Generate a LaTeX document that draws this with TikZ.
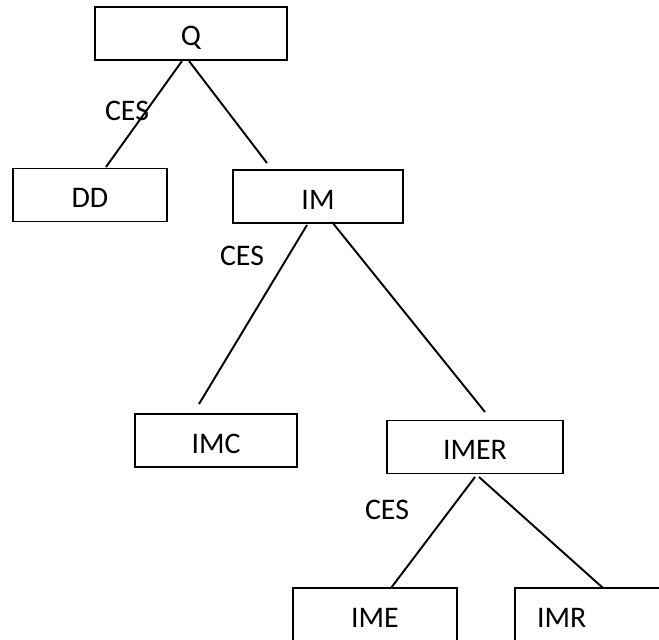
\documentclass[tikz,border=0pt]{standalone}
\usepackage{fontspec}
\setmainfont{Carlito}
\tikzset{
  box/.style={draw, line width=1.1pt, minimum height=1.06cm, text height=0.5cm, text depth=0pt, inner sep=0pt},
  link/.style={line width=1.1pt},
  ces/.style={inner sep=0pt}
}
\begin{document}
\begin{tikzpicture}[x=0.02cm,y=-0.02cm,font=\fontsize{17}{20}\selectfont]
                \useasboundingbox (0,0) rectangle (659,639);

                \node[box, minimum width=3.84cm] at (191,33.5) (q) {Q};
                \node[box, minimum width=3.08cm] at (90,195) (dd) {DD};
                \node[box, minimum width=3.40cm] at (318,196.5) (im) {IM};

                \node[box, minimum width=3.24cm] at (216,440.5) (imc) {IMC};
                \node[box, minimum width=3.52cm] at (475,447) (imer) {IMER};

                \node[box, minimum width=3.28cm] at (375,614.5) (ime) {IME};
                \node[box, text width=3.56cm, inner xsep=0.44cm] at (626,614.5) (imr) {IMR};

                \coordinate (q-l) at (182,61);
                \coordinate (q-r) at (189,61);
                \coordinate (dd-t) at (106,167);
                \coordinate (im-t) at (267,163);
                \coordinate (im-l) at (307,225);
                \coordinate (im-r) at (332,222);
                \coordinate (imc-t) at (199,404);
                \coordinate (imer-t) at (485,412);
                \coordinate (imer-l) at (475,477);
                \coordinate (imer-r) at (479,477);
                \coordinate (ime-t) at (391,588);
                \coordinate (imr-t) at (603,588);

                \draw[link] (q-l) -- (dd-t);
                \draw[link] (q-r) -- (im-t);
                \draw[link] (im-l) -- (imc-t);
                \draw[link] (im-r) -- (imer-t);
                \draw[link] (imer-l) -- (ime-t);
                \draw[link] (imer-r) -- (imr-t);

                \node[ces] at (127,111) (ces1) {CES};
                \node[ces] at (242,256) (ces2) {CES};
                \node[ces] at (387,510) (ces3) {CES};

            \end{tikzpicture}
\end{document}
